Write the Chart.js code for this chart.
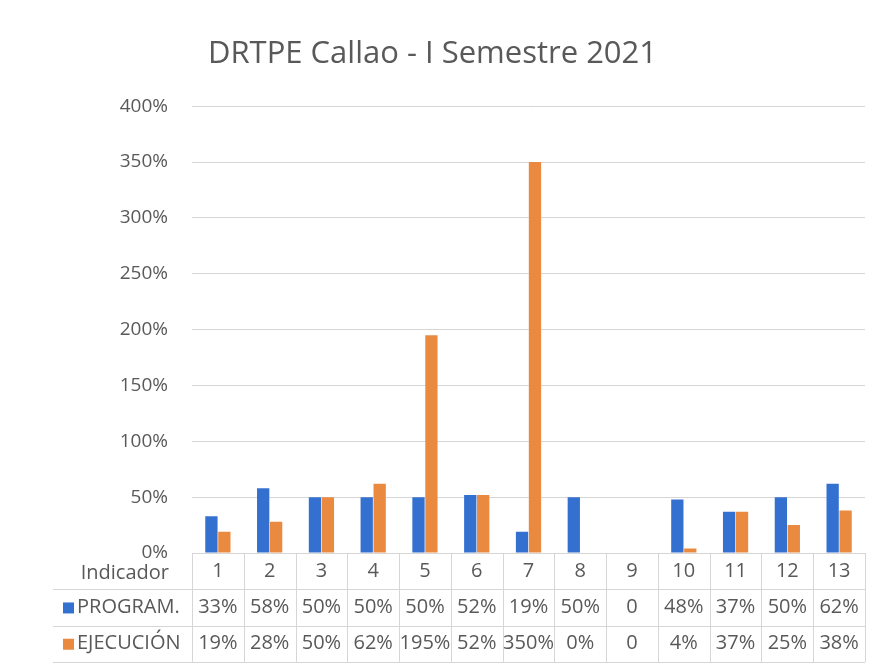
<!DOCTYPE html>
<html>
<head>
<meta charset="utf-8">
<script src="https://cdn.jsdelivr.net/npm/chart.js@4"></script>
<style>
  body { margin: 0; background: #fff; }
</style>
</head>
<body>
<canvas id="myBarChart" width="876" height="664"></canvas>
<script>
// data (null = cell shows "0" and no bar)
var indicadores = ['1', '2', '3', '4', '5', '6', '7', '8', '9', '10', '11', '12', '13'];
var programado = [33, 58, 50, 50, 50, 52, 19, 50, null, 48, 37, 50, 62];
var ejecucion = [19, 28, 50, 62, 195, 52, 350, 0, null, 4, 37, 25, 38];
var serieNombres = ['PROGRAM.', 'EJECUCIÓN'];
var serieColores = ['#3470d0', '#ea8a40'];

var textColor = '#595959';
var lineColor = '#d6d6d6';
var fontFam = '"Open Sans", sans-serif';

function fmt(v) {
    return v === null ? '0' : v + '%';
}

// draws the Excel-style data table under the plot
var dataTable = {
    id: 'dataTable',
    afterDraw: function (chart) {
        var ctx = chart.ctx;
        var area = chart.chartArea;
        var xs = chart.scales.x;
        var n = indicadores.length;
        var colW = area.width / n;
        var rowH = 36.3;
        var top = area.bottom;
        var rows = [indicadores, programado.map(fmt), ejecucion.map(fmt)];

        ctx.save();
        ctx.strokeStyle = lineColor;
        ctx.lineWidth = 1;
        ctx.beginPath();
        for (var i = 0; i <= n; i++) {
            var x = Math.round(area.left + i * colW) + 0.5;
            ctx.moveTo(x, top);
            ctx.lineTo(x, top + rowH * 3);
        }
        for (var r = 1; r <= 3; r++) {
            var y = Math.round(top + r * rowH) + 0.5;
            ctx.moveTo(53, y);
            ctx.lineTo(area.right, y);
        }
        ctx.stroke();

        ctx.font = '20px ' + fontFam;
        ctx.fillStyle = textColor;
        ctx.textBaseline = 'middle';
        ctx.textAlign = 'center';
        rows.forEach(function (row, r) {
            var cy = top + r * rowH + rowH / 2;
            row.forEach(function (txt, i) {
                ctx.fillText(txt, xs.getPixelForValue(i), cy);
            });
        });

        ctx.textAlign = 'right';
        ctx.fillText('Indicador', 169, top + rowH / 2 + 2);
        ctx.textAlign = 'left';
        serieNombres.forEach(function (name, s) {
            var cy = top + (s + 1) * rowH + rowH / 2;
            ctx.fillStyle = serieColores[s];
            ctx.fillRect(63, cy - 5, 11, 11);
            ctx.fillStyle = textColor;
            ctx.fillText(name, 77, cy);
        });
        ctx.restore();
    }
};

var ctx_bar = document.getElementById('myBarChart').getContext('2d');
var chart_bar = new Chart(ctx_bar, {
    type: 'bar',
    data: {
        labels: indicadores,
        datasets: [
            {
                label: serieNombres[0],
                data: programado,
                backgroundColor: serieColores[0],
                categoryPercentage: 0.5,
                barPercentage: 0.95
            },
            {
                label: serieNombres[1],
                data: ejecucion,
                backgroundColor: serieColores[1],
                categoryPercentage: 0.5,
                barPercentage: 0.95
            }
        ]
    },
    options: {
        responsive: false,
        animation: false,
        layout: {
            padding: { left: 0, right: 11, top: 0, bottom: 111 }
        },
        plugins: {
            legend: { display: false },
            tooltip: { enabled: false },
            title: {
                display: true,
                text: 'DRTPE Callao - I Semestre 2021',
                color: textColor,
                font: { family: fontFam, size: 31, weight: 'normal' },
                padding: { top: 36, bottom: 33 }
            }
        },
        scales: {
            x: {
                grid: { display: false },
                border: { display: false },
                ticks: { display: false },
                afterFit: function (scale) { scale.height = 0; }
            },
            y: {
                min: 0,
                max: 400,
                border: { display: false },
                grid: { color: lineColor, drawTicks: false },
                ticks: {
                    stepSize: 50,
                    padding: 24,
                    color: textColor,
                    font: { family: fontFam, size: 19 },
                    callback: function (v) { return v + '%'; }
                },
                afterFit: function (scale) { scale.width = 192; }
            }
        }
    },
    plugins: [dataTable]
});
</script>
</body>
</html>
